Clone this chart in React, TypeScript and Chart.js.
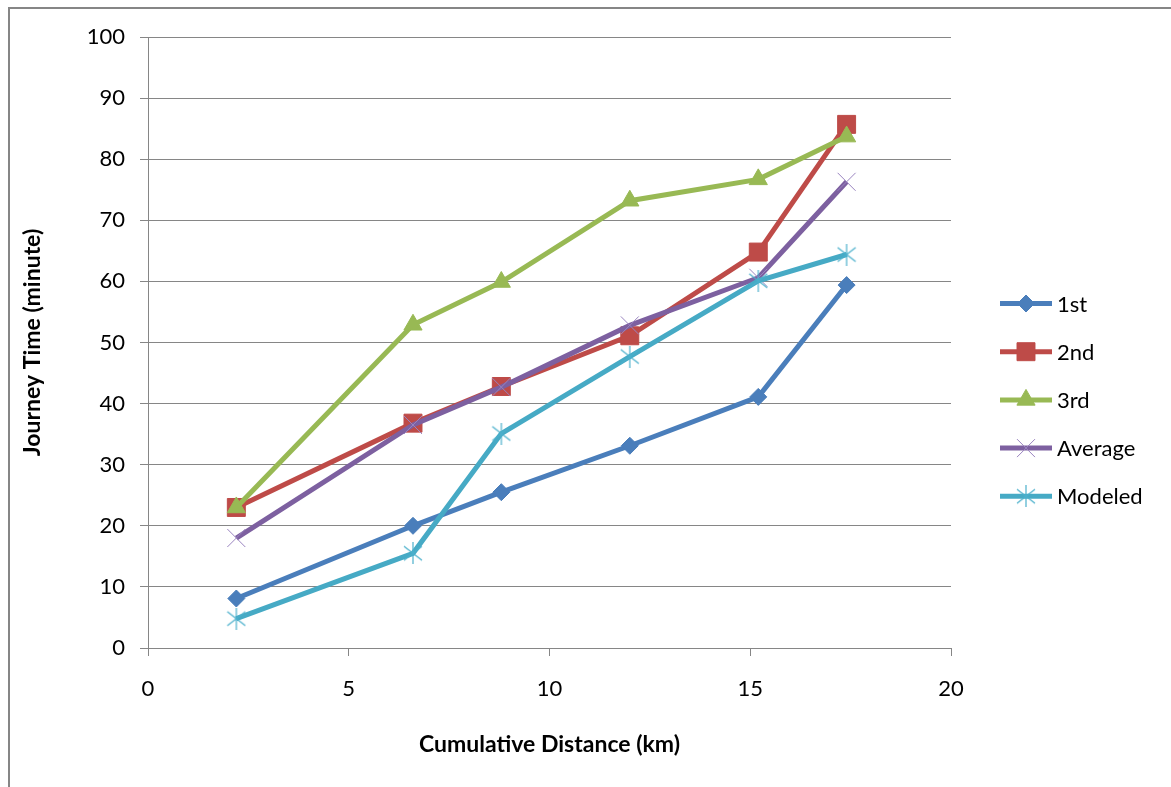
import React, { useEffect, useRef } from 'react';
import { Chart, registerables } from 'chart.js';
import { drawPoint } from 'chart.js/helpers';

Chart.register(...registerables);

// Cumulative distance along the route (km)
const distanceKm = [2.2, 6.6, 8.8, 12.0, 15.2, 17.4];

// Journey times (minutes) for each run
const firstRun = [8.1, 20.0, 25.5, 33.1, 41.1, 59.4];
const secondRun = [23.0, 36.8, 42.8, 51.1, 64.8, 85.7];
const thirdRun = [23.0, 52.9, 59.9, 73.2, 76.7, 83.7];
const averageRun = [18.0, 36.5, 42.7, 52.8, 60.6, 76.3];
const modeledRun = [4.8, 15.5, 35.1, 47.7, 60.1, 64.4];

const seriesNames = ['1st', '2nd', '3rd', 'Average', 'Modeled'];
const seriesValues = [firstRun, secondRun, thirdRun, averageRun, modeledRun];
const seriesColors = ['#4A7EBB', '#BE4B48', '#98B954', '#7D60A0', '#46AAC5'];

const xTitle = 'Cumulative Distance (km)';
const yTitle = 'Journey Time (minute)';

const GRID = '#868686';
const FONT = 'Lato';

// Six-armed star marker (an X crossed by a vertical stroke)
function makeStar(color: string): HTMLCanvasElement {
  const c = document.createElement('canvas');
  c.width = 20;
  c.height = 22;
  const g = c.getContext('2d')!;
  g.strokeStyle = color;
  g.lineWidth = 1.2;
  g.beginPath();
  g.moveTo(1, 4);
  g.lineTo(19, 18);
  g.moveTo(19, 4);
  g.lineTo(1, 18);
  g.moveTo(10, 0);
  g.lineTo(10, 22);
  g.stroke();
  return c;
}

export default function App() {
  const ref = useRef<HTMLCanvasElement | null>(null);

  useEffect(() => {
    const canvas = ref.current;
    if (!canvas) return;

    const star = makeStar('#4BB0CC');

    const markerStyles: any[] = [
      { pointStyle: 'rectRot', radius: 8.5, borderWidth: 1 },
      { pointStyle: 'rect', radius: 12.7, borderWidth: 1 },
      { pointStyle: 'triangle', radius: 10.5, borderWidth: 1 },
      { pointStyle: 'crossRot', radius: 12.7, borderWidth: 1, borderColor: '#9A84C0' },
      { pointStyle: star, radius: 10, borderWidth: 1 },
    ];

    const datasets = seriesNames.map((name, i) => ({
      label: name,
      data: distanceKm.map((x, j) => ({ x, y: seriesValues[i][j] })),
      borderColor: seriesColors[i],
      backgroundColor: seriesColors[i],
      borderWidth: 5,
      pointStyle: markerStyles[i].pointStyle,
      pointRadius: markerStyles[i].radius,
      pointBorderWidth: markerStyles[i].borderWidth,
      pointBorderColor: markerStyles[i].borderColor || seriesColors[i],
      pointBackgroundColor: seriesColors[i],
      tension: 0,
      order: seriesNames.length - i,
    }));

    // Outer frame of the chart
    const framePlugin = {
      id: 'frame',
      beforeDraw(chart: any) {
        const ctx = chart.ctx;
        ctx.save();
        ctx.fillStyle = '#ffffff';
        ctx.fillRect(0, 0, chart.width, chart.height);
        ctx.fillStyle = GRID;
        ctx.fillRect(8, 7, 2, chart.height - 7);
        ctx.fillRect(8, 7, chart.width - 8, 2);
        ctx.restore();
      },
    };

    // Legend: line segment with marker, then series name
    const legendPlugin = {
      id: 'lineLegend',
      afterDraw(chart: any) {
        const ctx = chart.ctx;
        ctx.save();
        chart.data.datasets.forEach((ds: any, i: number) => {
          const y = 303.5 + i * 48.2;
          ctx.strokeStyle = ds.borderColor;
          ctx.lineWidth = 5;
          ctx.beginPath();
          ctx.moveTo(1000, y);
          ctx.lineTo(1052, y);
          ctx.stroke();
          ctx.fillStyle = ds.pointBackgroundColor;
          ctx.strokeStyle = ds.pointBorderColor;
          ctx.lineWidth = ds.pointBorderWidth;
          drawPoint(ctx, { pointStyle: ds.pointStyle, radius: ds.pointRadius, rotation: 0, borderWidth: ds.pointBorderWidth }, 1026, y);
          ctx.fillStyle = '#000000';
          ctx.font = `22px ${FONT}`;
          ctx.textAlign = 'left';
          ctx.textBaseline = 'middle';
          ctx.fillText(ds.label, 1057, y + 1);
        });
        ctx.restore();
      },
    };

    const chart = new Chart(canvas, {
      type: 'line',
      data: { datasets },
      options: {
        responsive: false,
        animation: false,
        events: [],
        layout: { padding: { left: 0, top: 37, right: 220, bottom: 0 } },
        plugins: {
          legend: { display: false },
          tooltip: { enabled: false },
        },
        scales: {
          x: {
            type: 'linear',
            min: 0,
            max: 20,
            ticks: {
              stepSize: 5,
              padding: 20,
              color: '#000000',
              font: { family: FONT, size: 22 },
            },
            grid: {
              drawOnChartArea: false,
              drawTicks: true,
              tickLength: 8,
              color: GRID,
              lineWidth: 1,
            },
            border: { display: true, color: GRID, width: 1 },
            title: {
              display: true,
              text: xTitle,
              color: '#000000',
              font: { family: FONT, size: 23, weight: 'bold' },
              padding: { top: 0, bottom: 29 },
            },
            afterFit(scale: any) {
              scale.height = 139;
            },
          },
          y: {
            type: 'linear',
            min: 0,
            max: 100,
            ticks: {
              stepSize: 10,
              padding: 15,
              color: '#000000',
              font: { family: FONT, size: 22 },
            },
            grid: {
              drawOnChartArea: true,
              drawTicks: true,
              tickLength: 8,
              color: GRID,
              lineWidth: 1,
            },
            border: { display: true, color: GRID, width: 1 },
            title: {
              display: true,
              text: yTitle,
              color: '#000000',
              font: { family: FONT, size: 23, weight: 'bold' },
              padding: { top: 19, bottom: 0 },
            },
            afterFit(scale: any) {
              scale.width = 148;
            },
          },
        },
      },
      plugins: [framePlugin, legendPlugin],
    } as any);

    return () => chart.destroy();
  }, []);

  return (
    <div style={{ position: 'fixed', left: 0, top: 0, width: 1171, height: 787, background: '#ffffff' }}>
      <canvas ref={ref} width={1171} height={787} style={{ display: 'block' }} />
    </div>
  );
}
